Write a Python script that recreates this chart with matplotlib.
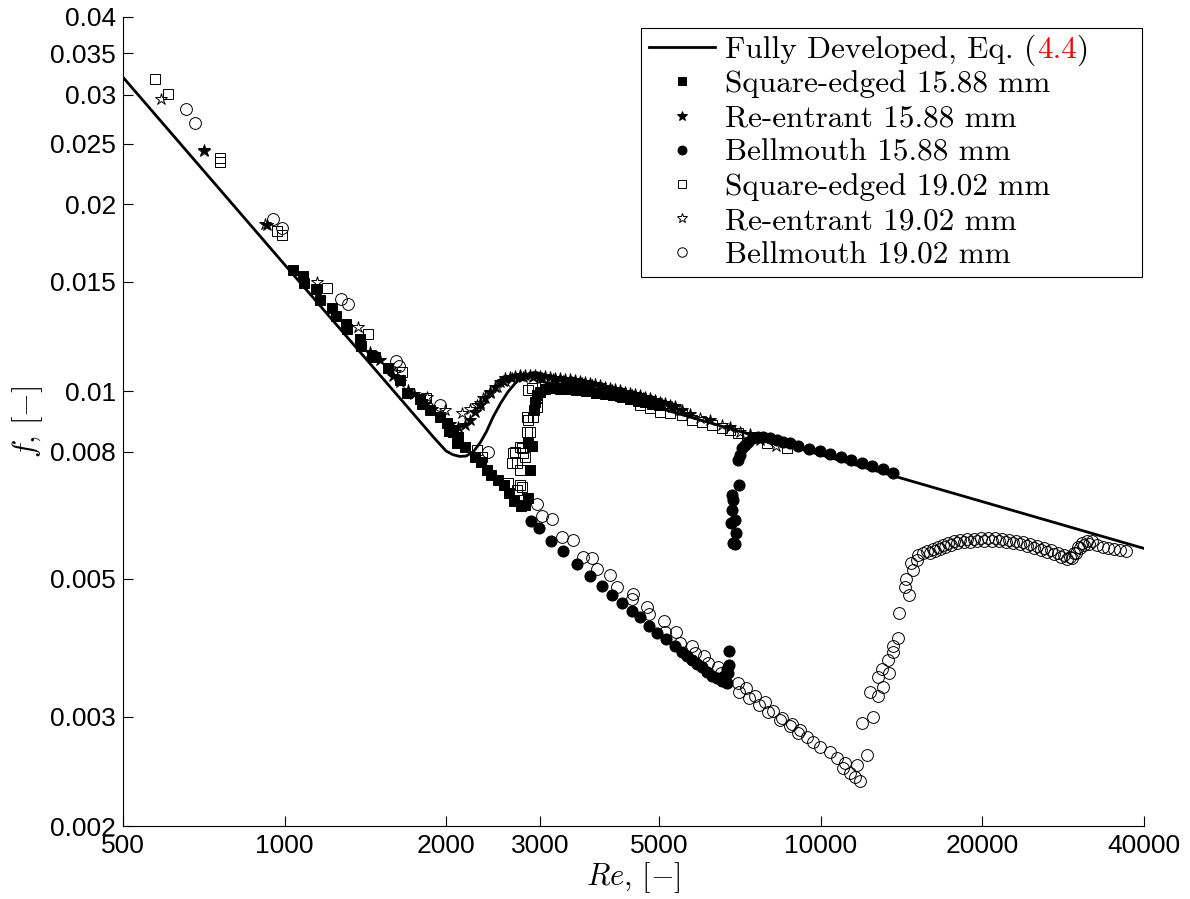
import matplotlib
matplotlib.use('Agg')
import matplotlib.pyplot as plt
from matplotlib.ticker import NullLocator, FixedLocator, FixedFormatter
from matplotlib.transforms import IdentityTransform

# ---------------- data ----------------
line_re = [500, 1900, 2000, 2060, 2120, 2180, 2250, 2314, 2380, 2447, 2530, 2609, 2690, 2780, 2870, 2950, 40000]
line_f = [0.032, 0.00842, 0.00802, 0.00791, 0.00786, 0.00787, 0.00800, 0.00826, 0.00862, 0.00909, 0.00958,
          0.00998, 0.0103, 0.01056, 0.01070, 0.01072, 0.00559]

sq1_re = [1039, 1081, 1088, 1145, 1167, 1224, 1250, 1302, 1310, 1383, 1389, 1456, 1475, 1561, 1641, 1690, 1786,
          1802, 1867, 1949, 2006, 2026, 2064, 2094, 2110, 2170, 2265, 2329, 2383, 2429, 2498, 2570, 2621, 2678,
          2756, 2807, 2847, 2868, 2847, 2889, 2914, 2930, 2952, 2994, 3126, 3406, 3873, 4405,
          3060, 3200, 3350, 3500, 3650, 3800, 3950, 4100, 4250, 4400, 4550, 4700, 4850, 5000]
sq1_f = [0.01568, 0.01533, 0.01494, 0.01459, 0.01403, 0.01364, 0.01320, 0.01281, 0.01258, 0.01216, 0.01185,
         0.01142, 0.01136, 0.01089, 0.01043, 0.00993, 0.00972, 0.00954, 0.00932, 0.00909, 0.00888, 0.00864,
         0.00860, 0.00826, 0.00844, 0.00814, 0.00783, 0.00770, 0.00748, 0.00734, 0.00720, 0.00707, 0.00686,
         0.00667, 0.00654, 0.00657, 0.00673, 0.00747, 0.00826, 0.00816, 0.00933, 0.00963, 0.00987, 0.00998,
         0.01013, 0.01013, 0.00994, 0.00976,
         0.01010, 0.01012, 0.01010, 0.01005, 0.01000, 0.00995, 0.00990, 0.00985, 0.00978, 0.00972, 0.00966,
         0.00960, 0.00955, 0.00950]

st1_re = [708, 926, 1443, 1507, 1593, 1641, 1699, 1743, 1828, 1884, 1949, 2035, 2106, 2170, 2217, 2265, 2314,
          2364, 2416, 2468, 2521, 2576, 2632, 2690, 2748, 2807, 2868, 2930, 2994, 3059, 3126, 3194, 3262, 3334,
          3406, 3480, 3554, 3632, 3710, 3790, 3873, 3956, 4042, 4130, 4220, 4313, 4405, 4500, 4599, 4699, 4800,
          4904, 5010, 5120, 5229, 5344, 5700, 6211, 6765, 7374,
          2550, 2660, 2780, 2900, 3020, 3160, 3300, 3440, 3590, 3750, 3910, 4080, 4260, 4450, 4650, 4850, 5060,
          5280, 5500]
st1_f = [0.0244, 0.01855, 0.01157, 0.01123, 0.01058, 0.01035, 0.01005, 0.00990, 0.00954, 0.00937, 0.00913,
         0.00886, 0.00876, 0.00883, 0.00899, 0.00927, 0.00951, 0.00976, 0.00998, 0.01018, 0.01035, 0.01050,
         0.01055, 0.01060, 0.01063, 0.01064, 0.01064, 0.01062, 0.01060, 0.01057, 0.01055, 0.01052, 0.01049,
         0.01047, 0.01045, 0.01043, 0.01039, 0.01035, 0.01031, 0.01028, 0.01022, 0.01018, 0.01013, 0.01009,
         0.01005, 0.00999, 0.00994, 0.00990, 0.00985, 0.00979, 0.00974, 0.00969, 0.00963, 0.00958, 0.00951,
         0.00946, 0.00920, 0.00899, 0.00876, 0.00854,
         0.01040, 0.01052, 0.01055, 0.01055, 0.01050, 0.01045, 0.01040, 0.01035, 0.01030, 0.01022, 0.01012,
         0.01005, 0.00995, 0.00985, 0.00975, 0.00965, 0.00955, 0.00945, 0.00935]

bm1_re = [2880, 2977, 3139, 3309, 3506, 3710, 3901, 4073, 4252, 4439, 4599, 4774, 4953, 5140, 5344, 5500, 5618,
          5741, 5866, 5994, 6124, 6257, 6393, 6532, 6600, 6674, 6690, 6720, 6746, 6738, 6846, 6911, 6935, 6797,
          6911, 6818, 6865, 6818, 7041, 7011, 7063, 7115, 7216, 7318, 7477, 7641, 7806, 8035, 8270, 8507, 8754,
          9072, 9509, 9960, 10396, 10882, 11374, 11909, 12467, 13032, 13606]
bm1_f = [0.00619, 0.00602, 0.00575, 0.00554, 0.00528, 0.00505, 0.00486, 0.00470, 0.00457, 0.00443, 0.00433,
         0.00420, 0.00409, 0.00399, 0.00390, 0.00381, 0.00375, 0.00370, 0.00365, 0.00361, 0.00354, 0.00349,
         0.00346, 0.00342, 0.00349, 0.00340, 0.00358, 0.00352, 0.00363, 0.00383, 0.00570, 0.00568, 0.00591,
         0.00615, 0.00621, 0.00644, 0.00669, 0.00681, 0.00706, 0.00776, 0.00790, 0.00810, 0.00820, 0.00830,
         0.00841, 0.00843, 0.00843, 0.00841, 0.00835, 0.00830, 0.00825, 0.00817, 0.00808, 0.00802, 0.00793,
         0.00784, 0.00776, 0.00767, 0.00759, 0.00751, 0.00740]

sq2_re = [574, 606, 758, 758, 967, 991, 1202, 1433, 1654, 1839, 2282, 2331, 2613, 2709, 2748, 2769, 2748, 2709,
          2670, 2748, 2787, 2651, 2690, 2769, 2807, 2835, 2868, 2828, 2847, 2909, 2952, 2952, 2847, 2889, 3059,
          3262, 3554, 3873, 4220, 4599, 4800, 5010, 5229, 5500, 5741, 5994, 6257, 6532, 6765, 7012, 7271, 7921,
          8635]
sq2_f = [0.03182, 0.03006, 0.0237, 0.02336, 0.01811, 0.01785, 0.01468, 0.01235, 0.01076, 0.00976, 0.00805,
         0.00785, 0.00711, 0.00694, 0.00707, 0.00703, 0.00747, 0.00766, 0.00795, 0.00815, 0.00795, 0.00766,
         0.00800, 0.00810, 0.00785, 0.00861, 0.00861, 0.00910, 0.00899, 0.00910, 0.00945, 0.00975, 0.01005,
         0.01011, 0.01015, 0.01010, 0.01005, 0.00995, 0.00982, 0.00951, 0.00940, 0.00928, 0.00922, 0.00916,
         0.00899, 0.00894, 0.00883, 0.00872, 0.00867, 0.00856, 0.00845, 0.00825, 0.00810]

st2_re = [589, 709, 920, 1148, 1369, 1607, 1841, 1992, 2140, 2217, 2282, 2314, 2347, 2416, 2489, 2576, 2748,
          2994, 3262, 3554, 3873, 4220, 4599, 5010, 5461, 5949, 6532, 7063, 7697, 8244]
st2_f = [0.02952, 0.02438, 0.01859, 0.01499, 0.01268, 0.01074, 0.00979, 0.00933, 0.00922, 0.00937, 0.00951,
         0.00958, 0.00975, 0.00994, 0.01016, 0.01039, 0.01058, 0.01051, 0.01039, 0.01024, 0.01005, 0.00987,
         0.00972, 0.00954, 0.00932, 0.00906, 0.00883, 0.00860, 0.00835, 0.00817]

bm2_re = [654, 682, 952, 988, 1274, 1312, 1617, 1637, 1949, 2395,
          2956, 3020, 3152, 3290, 3450, 3601, 3743, 3824, 4042, 4165, 4463, 4443, 4739, 4780, 5097, 5119, 5366,
          5461, 5748, 5825, 6052, 6155, 6427, 6511, 7003, 7025, 7248, 7342, 7534, 7664, 7864, 7966, 8136, 8384,
          8468, 8754, 8840, 9059, 9157, 9420, 9664, 9960, 10396, 10709, 11083, 11000, 11323, 11569, 11821,
          11690, 12184,
          11923, 12500, 12352, 12770, 13047, 12770, 13000, 13388, 13318, 13621, 13621, 13916, 13976, 14588,
          14344, 14405, 14846, 14720, 15100, 15165, 15488,
          15756, 16172, 16520, 16880, 17247, 17695, 18158, 18713, 19283, 19872, 20478, 21103, 21748, 22412,
          23095, 23800, 24528, 25266, 26044, 26834, 27653, 28377, 29115, 29618, 30130, 30654, 31318, 31997,
          32694, 33545, 34276, 35167, 36084, 37030,
          15960, 16345, 16700, 17060, 17470, 17925, 18435, 18995, 19575, 20170, 20790, 21425, 22080, 22750,
          23445, 24160, 24895, 25655, 26435, 27240, 28010, 28745, 29365, 29870, 30390, 30985, 31655]
bm2_f = [0.0285, 0.0270, 0.0189, 0.0183, 0.0141, 0.0138, 0.0112, 0.0110, 0.0095, 0.0080,
         0.00659, 0.00630, 0.00623, 0.00583, 0.00577, 0.00542, 0.00540, 0.00518, 0.00507, 0.00485, 0.00472,
         0.00464, 0.00450, 0.00439, 0.00427, 0.00410, 0.00410, 0.00394, 0.00389, 0.00379, 0.00375, 0.00366,
         0.00360, 0.00352, 0.00340, 0.00329, 0.00333, 0.00321, 0.00324, 0.00313, 0.00317, 0.00305, 0.00306,
         0.00296, 0.00298, 0.00290, 0.00292, 0.00282, 0.00285, 0.00278, 0.00273, 0.00268, 0.00263, 0.00257,
         0.00253, 0.00248, 0.00243, 0.00240, 0.00236, 0.00251, 0.00260,
         0.00293, 0.00299, 0.00329, 0.00324, 0.00335, 0.00347, 0.00358, 0.00352, 0.00370, 0.00381, 0.00389,
         0.00401, 0.00440, 0.00470, 0.00485, 0.00499, 0.00516, 0.00530, 0.00536, 0.00546, 0.00550,
         0.00554, 0.00558, 0.00562, 0.00566, 0.00570, 0.00575, 0.00577, 0.00579, 0.00579, 0.00581, 0.00581,
         0.00581, 0.00579, 0.00577, 0.00575, 0.00572, 0.00568, 0.00564, 0.00560, 0.00556, 0.00550, 0.00546,
         0.00542, 0.00550, 0.00562, 0.00570, 0.00575, 0.00575, 0.00566, 0.00562, 0.00560, 0.00558, 0.00556,
         0.00554,
         0.00550, 0.00554, 0.00558, 0.00562, 0.00567, 0.00570, 0.00572, 0.00573, 0.00574, 0.00575, 0.00575,
         0.00574, 0.00572, 0.00570, 0.00568, 0.00564, 0.00560, 0.00556, 0.00552, 0.00547, 0.00542, 0.00538,
         0.00540, 0.00550, 0.00560, 0.00566, 0.00569]

labels = ['Fully Developed, Eq. (4.4)', 'Square-edged 15.88 mm', 'Re-entrant 15.88 mm', 'Bellmouth 15.88 mm',
          'Square-edged 19.02 mm', 'Re-entrant 19.02 mm', 'Bellmouth 19.02 mm']
eq_prefix = 'Fully Developed, Eq. ('
eq_number = '4.4'
eq_suffix = ')'
xticks = [500, 1000, 2000, 3000, 5000, 10000, 20000, 40000]
xtick_labels = ['500', '1000', '2000', '3000', '5000', '10000', '20000', '40000']
yticks = [0.002, 0.003, 0.005, 0.008, 0.01, 0.015, 0.02, 0.025, 0.03, 0.035, 0.04]
ytick_labels = ['0.002', '0.003', '0.005', '0.008', '0.01', '0.015', '0.02', '0.025', '0.03', '0.035', '0.04']

# ---------------- plot ----------------
plt.rcParams['mathtext.fontset'] = 'cm'
fig = plt.figure(figsize=(11.9, 8.99), dpi=100)
ax = fig.add_axes([123 / 1190, 1 - 826 / 899, 1021 / 1190, 809 / 899])
ax.set_xscale('log')
ax.set_yscale('log')

ax.plot(line_re, line_f, '-', color='k', lw=2.0, label=labels[0], zorder=2)
common = dict(ls='none', mew=0.7, zorder=3)
ax.plot(sq1_re, sq1_f, marker='s', ms=6.5, mfc='k', mec='k', label=labels[1], **common)
ax.plot(st1_re, st1_f, marker='*', ms=9, mfc='k', mec='k', label=labels[2], **common)
ax.plot(bm1_re, bm1_f, marker='o', ms=8, mfc='k', mec='k', label=labels[3], **common)
ax.plot(sq2_re, sq2_f, marker='s', ms=6.5, mfc='none', mec='k', label=labels[4], **common)
ax.plot(st2_re, st2_f, marker='*', ms=9, mfc='none', mec='k', label=labels[5], **common)
ax.plot(bm2_re, bm2_f, marker='o', ms=8.5, mfc='none', mec='k', label=labels[6], **common)

ax.set_xlim(500, 40000)
ax.set_ylim(0.002, 0.04)
ax.xaxis.set_major_locator(FixedLocator(xticks))
ax.xaxis.set_major_formatter(FixedFormatter(xtick_labels))
ax.xaxis.set_minor_locator(NullLocator())
ax.yaxis.set_major_locator(FixedLocator(yticks))
ax.yaxis.set_major_formatter(FixedFormatter(ytick_labels))
ax.yaxis.set_minor_locator(NullLocator())
ax.tick_params(axis='both', direction='in', length=7, width=0.8, labelsize=19,
               labelfontfamily='Liberation Sans')
ax.tick_params(axis='x', pad=6)
ax.tick_params(axis='y', pad=5)
ax.spines['top'].set_visible(False)
ax.spines['right'].set_visible(False)
for s in ('left', 'bottom'):
    ax.spines[s].set_linewidth(0.8)

ax.set_xlabel(r'$Re,\,[-]$', fontsize=22, labelpad=1)
ax.set_ylabel(r'$f,\,[-]$', fontsize=22, labelpad=4)

leg = ax.legend(loc='upper left', bbox_to_anchor=(0.5073, 0.5, 0.4907, 0.4864), mode='expand',
                prop={'family': 'cmr10', 'size': 22.5},
                frameon=True, fancybox=False, edgecolor='k', framealpha=1, borderaxespad=0,
                handlelength=2.1, handletextpad=0.32, labelspacing=0.2, borderpad=0.26, markerscale=0.8)
leg.get_frame().set_linewidth(0.8)

# first legend entry: redraw its text with a red equation number
fig.canvas.draw()
renderer = fig.canvas.get_renderer()
t0 = leg.get_texts()[0]
fp = t0.get_fontproperties()


def text_width(s):
    tt = fig.text(0, 0, s, fontproperties=fp)
    w = tt.get_window_extent(renderer).width
    tt.remove()
    return w


w_full = text_width(labels[0])
w_num_suffix = text_width(eq_number + eq_suffix)
w_suffix = text_width(eq_suffix)
t0.set_text('')
fig.canvas.draw()
x0, y0 = t0.get_transform().transform(t0.get_position())
kw = dict(fontproperties=fp, ha='left', va=t0.get_va(), transform=IdentityTransform(), zorder=10)
fig.text(x0, y0, eq_prefix, color='k', **kw)
fig.text(x0 + w_full - w_num_suffix + 1, y0, eq_number, color='red', **kw)
fig.text(x0 + w_full - w_suffix + 1, y0, eq_suffix, color='k', **kw)

fig.savefig('out.png', dpi=100)
